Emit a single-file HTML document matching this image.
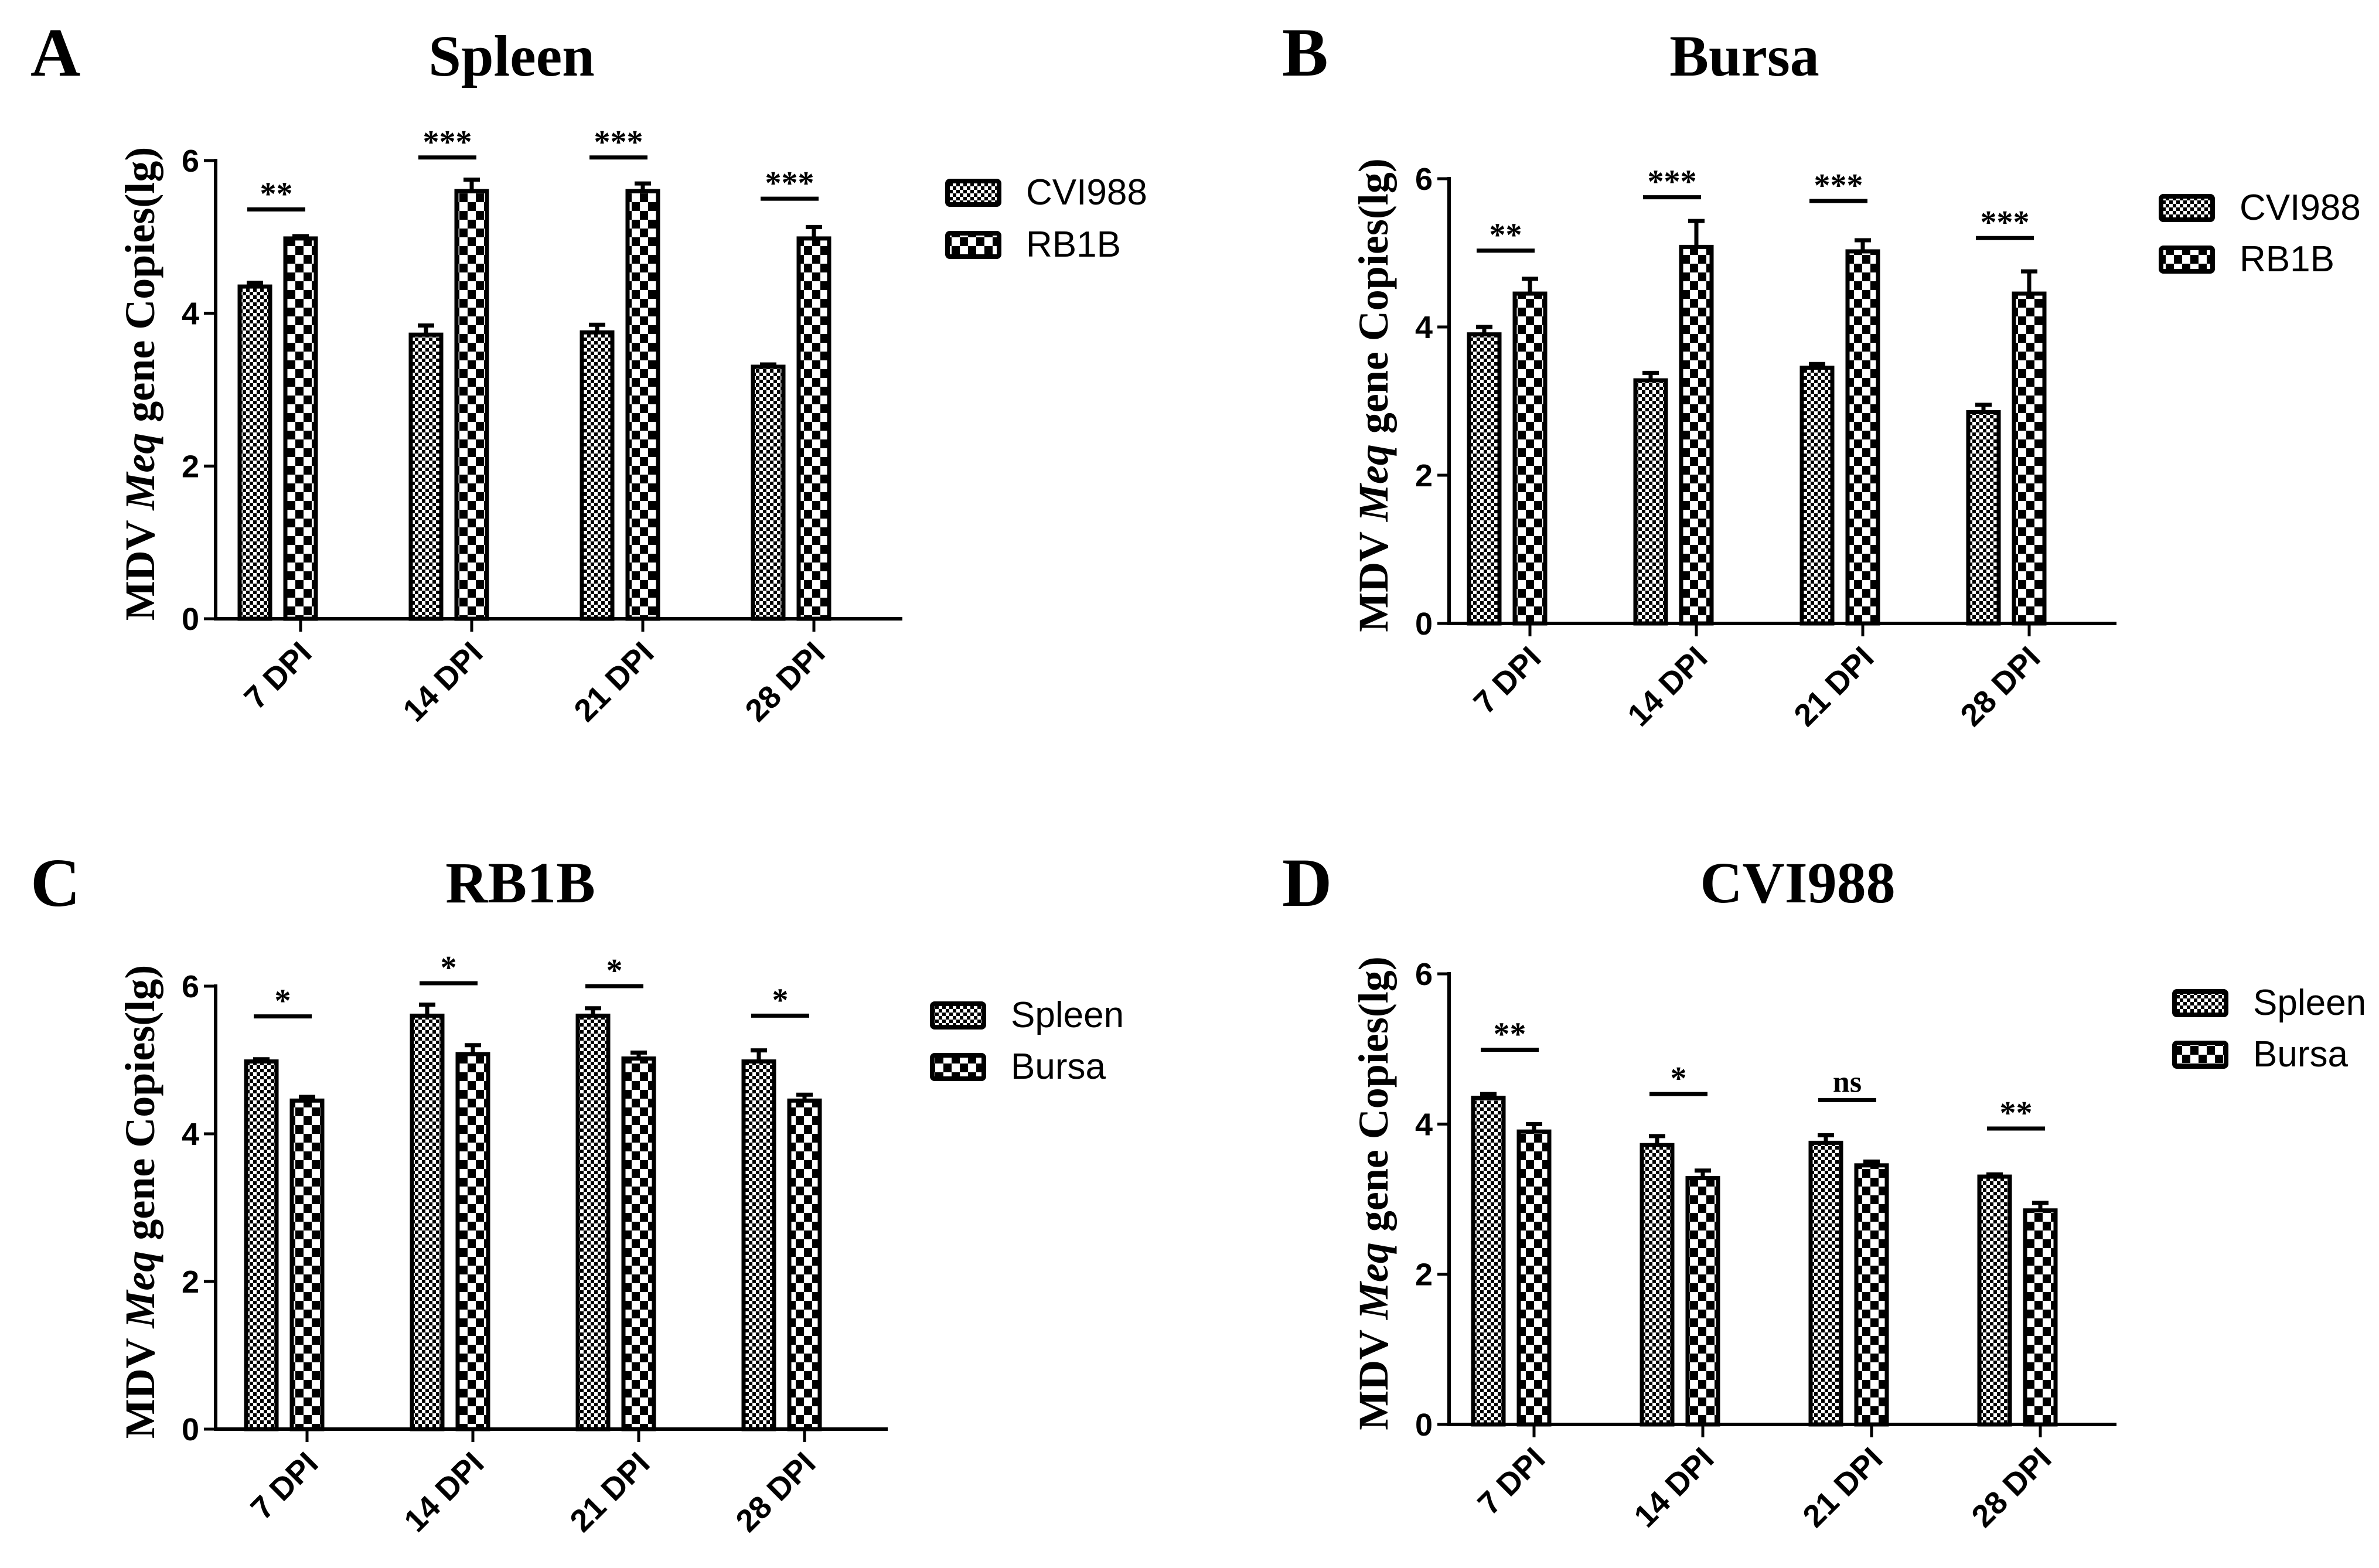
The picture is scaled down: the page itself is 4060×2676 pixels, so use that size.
<!DOCTYPE html>
<html><head><meta charset="utf-8"><style>
html,body{margin:0;padding:0;background:#fff}
svg{display:block}
</style></head><body>
<svg id="fig" width="4060" height="2676" viewBox="0 0 4060 2676" xmlns="http://www.w3.org/2000/svg">
<defs>
<pattern id="fine" width="12" height="12" patternUnits="userSpaceOnUse">
<rect width="12" height="12" fill="#fff"/><rect width="6" height="6" fill="#000"/><rect x="6" y="6" width="6" height="6" fill="#000"/>
</pattern>
<pattern id="coarse" width="28" height="30" patternUnits="userSpaceOnUse">
<rect width="28" height="30" fill="#fff"/><rect width="14" height="15" fill="#000"/><rect x="14" y="15" width="14" height="15" fill="#000"/>
</pattern>
</defs>
</svg>
<script>
const categories = ["7 DPI","14 DPI","21 DPI","28 DPI"];
const yTicks = [0,2,4,6];
const spleenCVI = [4.35,3.72,3.75,3.3];
const spleenCVIErr = [0.05,0.12,0.1,0.03];
const spleenRB = [4.98,5.6,5.6,4.98];
const spleenRBErr = [0.03,0.15,0.1,0.15];
const bursaCVI = [3.9,3.28,3.45,2.85];
const bursaCVIErr = [0.1,0.1,0.05,0.1];
const bursaRB = [4.45,5.08,5.02,4.45];
const bursaRBErr = [0.2,0.35,0.15,0.3];
const bursaRBErrC = [0.05,0.12,0.08,0.08];
const sigA = ["**","***","***","***"], sigAy = [5.36,6.04,6.04,5.5];
const sigB = ["**","***","***","***"], sigBy = [5.03,5.75,5.7,5.2];
const sigC = ["*","*","*","*"], sigCy = [5.59,6.04,6.0,5.6];
const sigD = ["**","*","ns","**"], sigDy = [4.99,4.4,4.32,3.94];

const NS="http://www.w3.org/2000/svg";
const svg=document.getElementById('fig');
function mk(tag,attrs,parent,text){const e=document.createElementNS(NS,tag);for(const k in attrs)e.setAttribute(k,attrs[k]);if(text!==undefined)e.textContent=text;(parent||svg).appendChild(e);return e;}

const panels=[
 {id:'a',letter:'A',lx:52,ly:129,title:'Spleen',tx:873,ty:129,ax:368,y0:1056,y6:274,xend:1540,first:406,pitch:292,
  s1:spleenCVI,e1:spleenCVIErr,s2:spleenRB,e2:spleenRBErr,n1:'CVI988',n2:'RB1B',lgx:1613,lgy:[305,394],sig:sigA,sigy:sigAy},
 {id:'b',letter:'B',lx:2188,ly:129,title:'Bursa',tx:2977,ty:129,ax:2473,y0:1064,y6:305,xend:3612,first:2504,pitch:284,
  s1:bursaCVI,e1:bursaCVIErr,s2:bursaRB,e2:bursaRBErr,n1:'CVI988',n2:'RB1B',lgx:3684,lgy:[331,419],sig:sigB,sigy:sigBy},
 {id:'c',letter:'C',lx:52,ly:1546,title:'RB1B',tx:888,ty:1540,ax:368,y0:2439,y6:1683,xend:1515,first:417,pitch:283,
  s1:spleenRB,e1:spleenRBErr,s2:bursaRB,e2:bursaRBErrC,n1:'Spleen',n2:'Bursa',lgx:1587,lgy:[1709,1797],sig:sigC,sigy:sigCy},
 {id:'d',letter:'D',lx:2188,ly:1546,title:'CVI988',tx:3068,ty:1540,ax:2473,y0:2431,y6:1662,xend:3612,first:2511,pitch:288,
  s1:spleenCVI,e1:spleenCVIErr,s2:bursaCVI,e2:bursaCVIErr,n1:'Spleen',n2:'Bursa',lgx:3707,lgy:[1688,1776],sig:sigD,sigy:sigDy}
];
const BW=58, GAP=20;
panels.forEach(p=>{
 const g=mk('g',{});
 
 
 const y=v=>p.y0-(p.y0-p.y6)*v/6;
 let t=mk('text',{x:p.lx,y:p.ly,'font-family':'Liberation Serif, serif','font-weight':'bold','font-size':118},g,p.letter);
 
 
 t=mk('text',{x:p.tx,y:p.ty,'text-anchor':'middle','font-family':'Liberation Serif, serif','font-weight':'bold','font-size':100},g,p.title);
 
 
 const ymid=(p.y0+p.y6)/2-10;
 t=mk('text',{x:0,y:0,transform:`translate(${p.ax-105},${ymid}) rotate(-90)`,'text-anchor':'middle','font-family':'Liberation Serif, serif','font-weight':'bold','font-size':72},g);
 
 
 mk('tspan',{},t,'MDV ');mk('tspan',{'font-style':'italic'},t,'Meq');mk('tspan',{},t,' gene Copies(lg)');
 categories.forEach((c,i)=>{
  const x1=p.first+i*p.pitch, x2=x1+BW+GAP;
  [[x1,p.s1[i],p.e1[i],'fine',p.n1],[x2,p.s2[i],p.e2[i],'coarse',p.n2]].forEach(([bx,v,e,pat,nm])=>{
   const cx=bx+BW/2;
   const eb=mk('path',{d:`M${cx} ${y(v)} V${y(v+e)} M${cx-14} ${y(v+e)} H${cx+14}`,stroke:'#000','stroke-width':7,fill:'none'},g);
   
   
   const r=mk('rect',{x:bx+3,y:y(v),width:BW-6,height:p.y0-y(v),fill:`url(#${pat})`,stroke:'#000','stroke-width':7},g);
   
   
  });
  const sx1=x1+BW/2-13, sx2=x2+BW/2+8, sy=y(p.sigy[i]);
  const l=mk('line',{x1:sx1,x2:sx2,y1:sy,y2:sy,stroke:'#000','stroke-width':7},g);
  
  
  const st=mk('text',{x:(sx1+sx2)/2,y:p.sig[i]==='ns'?sy-14:sy-8,'text-anchor':'middle','font-family':'Liberation Serif, serif','font-weight':'bold','font-size':p.sig[i]==='ns'?52:56},g,p.sig[i]);
  
  
  const tx=x2+BW/2;
  const tk=mk('line',{x1:tx,x2:tx,y1:p.y0,y2:p.y0+22,stroke:'#000','stroke-width':5},g);
  
  
  const xl=mk('text',{x:0,y:0,transform:`translate(${tx+22},${p.y0+62}) rotate(-45)`,'text-anchor':'end','font-family':'Liberation Sans, sans-serif','font-weight':'bold','font-size':54},g,c);
  
  
 });
 let a=mk('line',{x1:p.ax,x2:p.ax,y1:p.y6-3,y2:p.y0,stroke:'#000','stroke-width':6},g);
 
 
 a=mk('line',{x1:p.ax-3,x2:p.xend,y1:p.y0,y2:p.y0,stroke:'#000','stroke-width':6},g);
 
 
 yTicks.forEach(v=>{
  const tk=mk('line',{x1:p.ax-20,x2:p.ax,y1:y(v),y2:y(v),stroke:'#000','stroke-width':5},g);
  
  
  const tl=mk('text',{x:p.ax-28,y:y(v)+19,'text-anchor':'end','font-family':'Liberation Sans, sans-serif','font-weight':'bold','font-size':54},g,String(v));
  
  
 });
 [[p.n1,'fine'],[p.n2,'coarse']].forEach(([nm,pat],k)=>{
  const ly=p.lgy[k];
  const lb=mk('rect',{x:p.lgx+4,y:ly+4,width:88,height:40,fill:`url(#${pat})`,stroke:'#000','stroke-width':8,rx:4},g);
  
  
  const lt=mk('text',{x:p.lgx+138,y:ly+44,'font-family':'Liberation Sans, sans-serif','font-size':62},g,nm);
  
  
 });
});
</script>
</body></html>
